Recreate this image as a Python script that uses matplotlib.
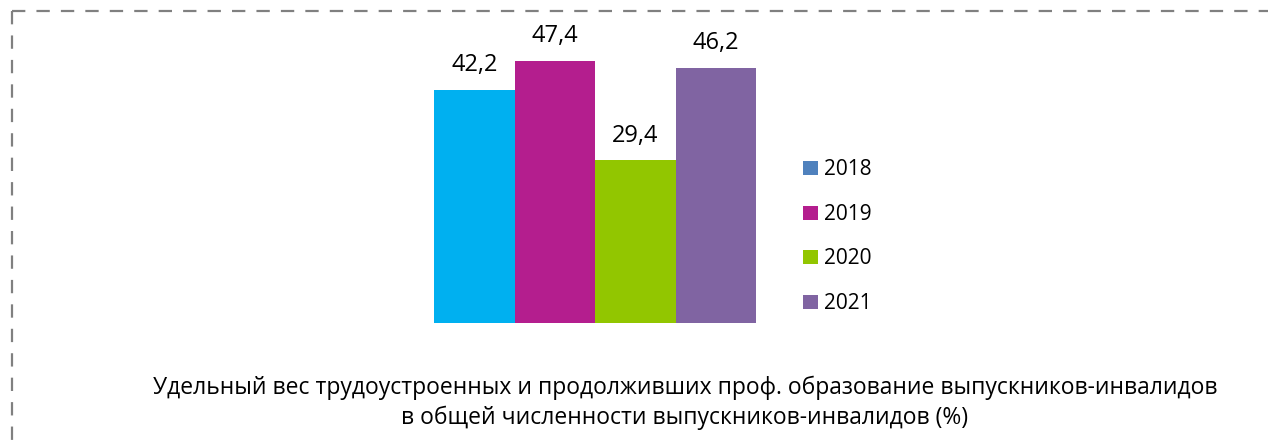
import matplotlib.pyplot as plt
from matplotlib.patches import Patch
from matplotlib.lines import Line2D

# data
years = ["2018", "2019", "2020", "2021"]
values = [42.2, 47.4, 29.4, 46.2]
value_labels = ["42,2", "47,4", "29,4", "46,2"]
bar_colors = ["#00B0F0", "#B41E8E", "#92C600", "#8064A2"]
legend_colors = ["#4F81BD", "#B41E8E", "#92C600", "#8064A2"]
title = ("Удельный вес трудоустроенных и продолживших проф. образование выпускников-инвалидов\n"
         "в общей численности выпускников-инвалидов (%)")

plt.rcParams["font.family"] = ["Open Sans", "DejaVu Sans"]

W, H = 1268, 442
fig = plt.figure(figsize=(W / 100, H / 100), dpi=100)

# dashed frame (only top and left edges are visible)
fig.add_artist(Line2D([12 / W, 1], [1 - 11 / H, 1 - 11 / H], color="#808080",
                      lw=1.6, ls=(0, (6, 5)), transform=fig.transFigure))
fig.add_artist(Line2D([12 / W, 12 / W], [1 - 11 / H, 0], color="#808080",
                      lw=1.6, ls=(0, (6, 5)), transform=fig.transFigure))

# axes placed in pixels: bars span x 434..756, base at y=323
ax_left, ax_right, ax_bottom, ax_top = 434, 756, 323, 30
ax = fig.add_axes([ax_left / W, 1 - ax_bottom / H,
                   (ax_right - ax_left) / W, (ax_bottom - ax_top) / H])
x = list(range(len(values)))
ax.bar(x, values, width=1.0, color=bar_colors)
ax.set_xlim(-0.5, len(values) - 0.5)
ax.set_ylim(0, (ax_bottom - ax_top) / 5.53)
ax.axis("off")

for xi, v, lab in zip(x, values, value_labels):
    ax.annotate(lab, (xi, v), xytext=(0, 9), textcoords="offset points",
                ha="center", va="bottom", fontsize=17, color="#000000")

handles = [Patch(facecolor=c, edgecolor="none") for c in legend_colors]
fig.legend(handles, years, loc="upper left",
           bbox_to_anchor=(793 / W, 1 - 149 / H), frameon=False,
           fontsize=15, handlelength=0.68, handleheight=0.68,
           handletextpad=0.3, labelspacing=1.13, borderpad=0)

fig.text(685 / W, 1 - 403 / H, title, ha="center", va="center",
         fontsize=16.5, linespacing=1.3, color="#000000")

fig.savefig("out.png", dpi=100)
